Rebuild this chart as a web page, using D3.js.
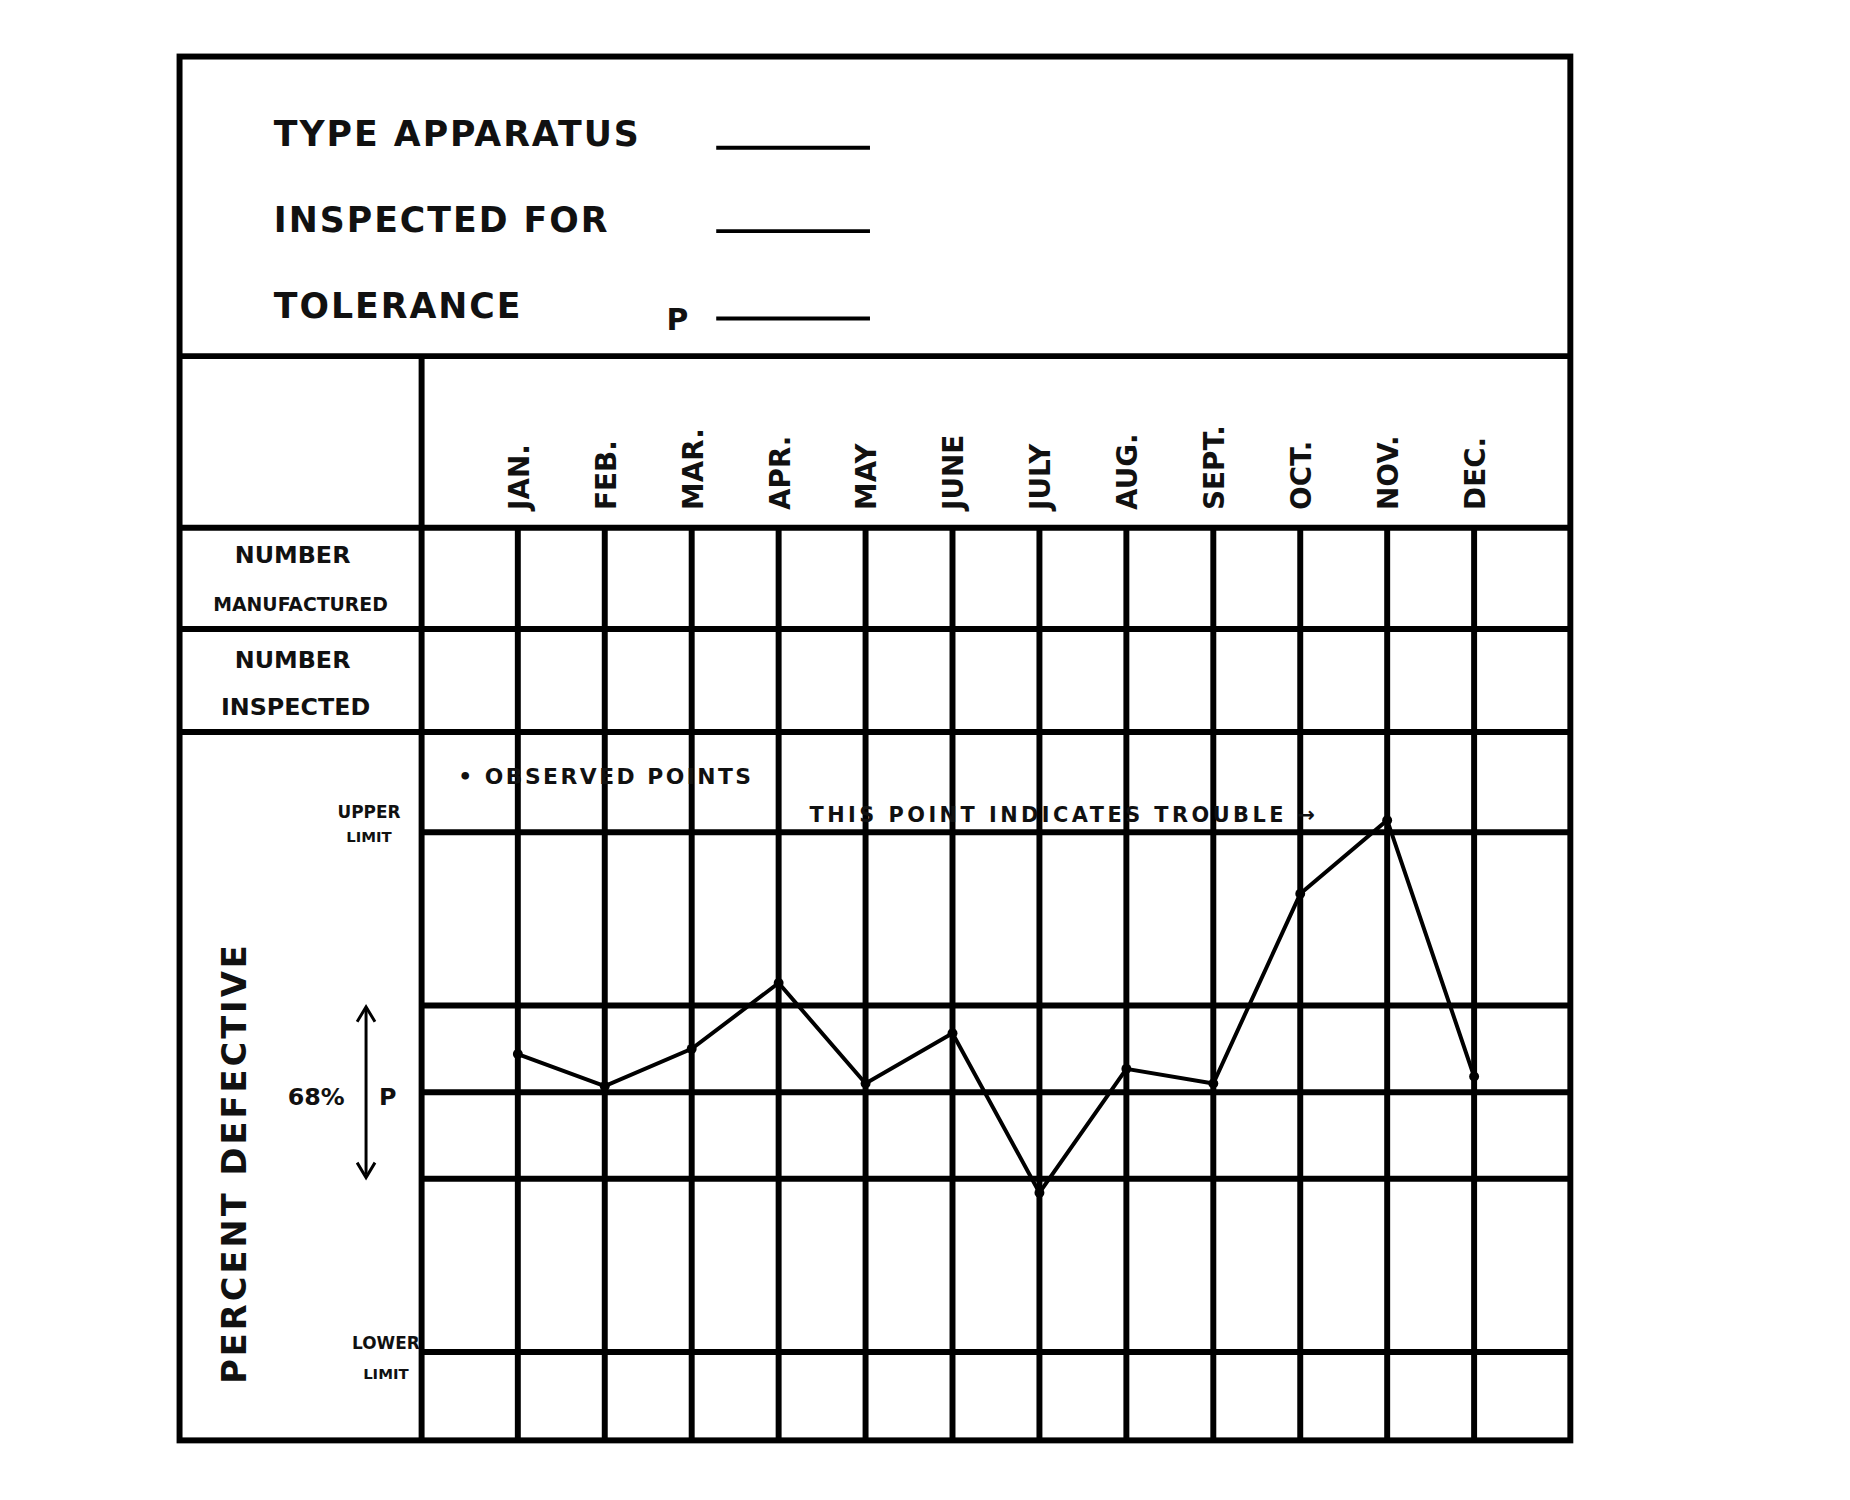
<!DOCTYPE html>
<html><head><meta charset="utf-8">
<script src="https://cdn.jsdelivr.net/npm/d3@7"></script>
<style>body{margin:0;background:#fff}text{font-family:"DejaVu Sans",sans-serif;font-weight:bold;fill:#111}</style>
</head><body><svg id="c" width="1850" height="1500"></svg>
<script>
const months=["JAN.","FEB.","MAR.","APR.","MAY","JUNE","JULY","AUG.","SEPT.","OCT.","NOV.","DEC."];
// percent defective in sigma units relative to p (0 = p, +3 = upper limit, -3 = lower limit)
const values=[0.44,0.07,0.5,1.26,0.1,0.68,-1.16,0.27,0.1,2.29,3.14,0.18];
const gridLevels=[3,1,0,-1,-3];
const headerLabels=["TYPE APPARATUS","INSPECTED FOR","TOLERANCE"];

const svg=d3.select("#c").append("g").attr("transform","scale(0.992)");
const L=181,T=57,R=1583,B=1452,div=425,sw=6;
const x=d3.scalePoint().domain(months).range([522,1486]);
const y=d3.scaleLinear().domain([-3,3]).range([1363,839]);
const ln=(x1,y1,x2,y2,w)=>svg.append("line").attr("x1",x1).attr("y1",y1).attr("x2",x2).attr("y2",y2).attr("stroke","#000").attr("stroke-width",w||sw);
svg.append("rect").attr("x",L).attr("y",T).attr("width",R-L).attr("height",B-T).attr("fill","none").attr("stroke","#000").attr("stroke-width",sw);
ln(L,359,R,359);ln(div,359,div,B);
[532,634,738].forEach(v=>ln(L,v,R,v));
months.forEach(m=>ln(x(m),532,x(m),B));
gridLevels.forEach(g=>ln(div,y(g),R,y(g)));
const hy=[133,220,307];
headerLabels.forEach((t,i)=>{svg.append("text").attr("x",276).attr("y",hy[i]+14).attr("font-size",35).attr("font-weight","normal").attr("letter-spacing",2).text(t);});
[149,233,321].forEach(v=>ln(722,v,877,v,4));
svg.append("text").attr("x",672).attr("y",333).attr("font-size",30).text("P");
months.forEach(m=>svg.append("text").attr("transform",`translate(${x(m)+11},514) rotate(-90)`).attr("font-size",28).text(m));
const rl=(t,cx,cy,fs)=>svg.append("text").attr("x",cx).attr("y",cy).attr("text-anchor","middle").attr("font-size",fs).text(t);
rl("NUMBER",295,568,24);rl("MANUFACTURED",303,616,19);
rl("NUMBER",295,673,24);rl("INSPECTED",298,721,24);
rl("UPPER",372,825,17);rl("LIMIT",372,849,15);
rl("LOWER",389,1360,17);rl("LIMIT",389,1390,15);
svg.append("text").attr("x",462).attr("y",790).attr("font-size",22).attr("letter-spacing",2.5).text("• OBSERVED POINTS");
svg.append("text").attr("x",816).attr("y",829).attr("font-size",21).attr("letter-spacing",3.5).text("THIS POINT INDICATES TROUBLE →");
svg.append("text").attr("transform","translate(248,1395) rotate(-90)").attr("font-size",34).attr("font-weight","normal").attr("letter-spacing",3).text("PERCENT DEFECTIVE");
svg.append("text").attr("x",290).attr("y",1114).attr("font-size",24).text("68%");
svg.append("text").attr("x",382).attr("y",1114).attr("font-size",24).text("P");
ln(369,1018,369,1184,3);
svg.append("path").attr("d","M360,1030 L369,1015 L378,1030 M360,1172 L369,1187 L378,1172").attr("fill","none").attr("stroke","#000").attr("stroke-width",3);
const line=d3.line().x((d,i)=>x(months[i])).y(d=>y(d));
svg.append("path").datum(values).attr("d",line).attr("fill","none").attr("stroke","#000").attr("stroke-width",4);
svg.selectAll("circle.p").data(values).join("circle").attr("cx",(d,i)=>x(months[i])).attr("cy",d=>y(d)).attr("r",5).attr("fill","#000");
</script></body></html>
